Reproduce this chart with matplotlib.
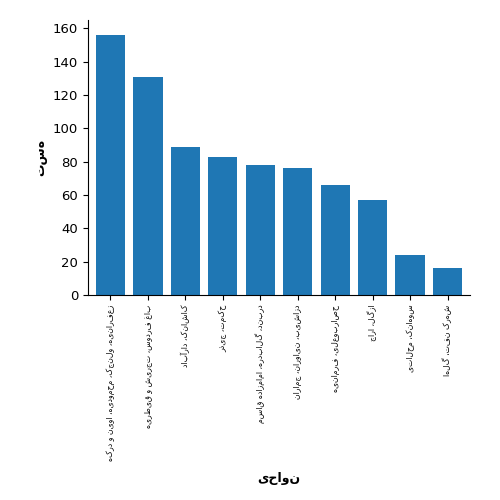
import matplotlib
matplotlib.use("Agg")
import matplotlib.pyplot as plt

districts = [
    "زعفرانیه، ولنجک، محمودیه، اوین و درکه",
    "باغ فردوس، تجریش و قیطریه",
    "کاشانک، دارآباد",
    "حکمت، جیذر",
    "دربند، گلابدره، امامزاده قاسم",
    "دزاشیب، نیاوران، جماران",
    "حصاربوعلی، فرمانیه",
    "ازگل، اراج",
    "سوهانک، محلاتی",
    "شهرک نفت، گلها",
]
counts = [156, 131, 89, 83, 78, 76, 66, 57, 24, 16]


def rtl(s):
    # no shaping available, so at least show right-to-left order
    return s[::-1]


plt.rcParams["font.family"] = ["DejaVu Sans", "Noto Sans"]
fig, ax = plt.subplots(figsize=(5, 5), dpi=100)
fig.subplots_adjust(left=0.176, right=0.94, top=0.96, bottom=0.41)

x = range(len(districts))
ax.bar(x, counts, color="#1f77b4", width=0.78)
ax.set_xticks(list(x))
ax.set_xticklabels([rtl(d) for d in districts], rotation=90, fontsize=5.6, va="top")
ax.set_ylim(0, 165)
ax.set_yticks(range(0, 161, 20))
ax.tick_params(axis="y", labelsize=9.5)
ax.set_xlim(-0.6, 9.6)
ax.spines["top"].set_visible(False)
ax.spines["right"].set_visible(False)
ax.set_ylabel(rtl("هست"), fontsize=9, fontweight="bold")
ax.set_xlabel(rtl("نواحی"), fontsize=9, fontweight="bold", labelpad=8)

fig.savefig("out.png", dpi=100)
